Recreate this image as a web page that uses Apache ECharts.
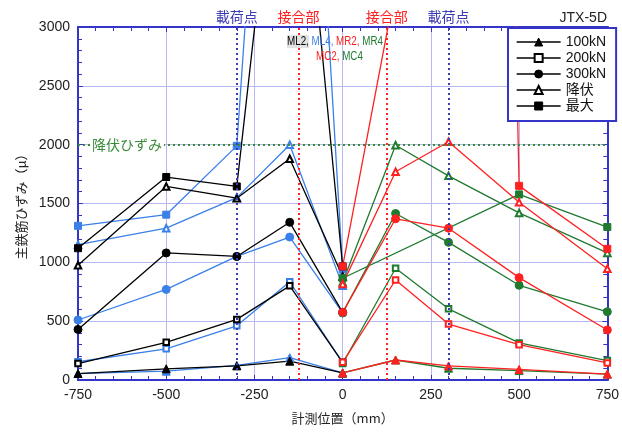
<!DOCTYPE html>
<html><head><meta charset="utf-8">
<script src="https://cdn.jsdelivr.net/npm/echarts@6/dist/echarts.min.js"></script>
<style>html,body{margin:0;padding:0;background:#fff}#c{width:622px;height:432px}</style>
</head><body><div id="c"></div>
<script>
// ---- positions (mm) ----
const xLeft = [-750, -500, -300, -150, 0];
const xRight = [0, 150, 300, 500, 750];
const loadLevels = ['100kN', '200kN', '300kN', '降伏', '最大'];

// ---- ML2 (black) ----
const ml2_100 = [55, 95, 120, 160, 60];
const ml2_200 = [140, 320, 515, 800, 150];
const ml2_300 = [430, 1080, 1050, 1340, 575];
const ml2_yield = [975, 1645, 1545, 1880, 880];
const ml2_max = [1120, 1725, 1645, 5660, 965];
// ---- ML4 (blue) ----
const ml4_100 = [55, 75, 125, 190, 60];
const ml4_200 = [155, 265, 460, 835, 145];
const ml4_300 = [510, 770, 1050, 1215, 570];
const ml4_yield = [1150, 1290, 1550, 2000, 800];
const ml4_max = [1310, 1405, 1990, 8500, 940];
// ---- MR2 (red) ----
const mr2_100 = [60, 170, 120, 90, 50];
const mr2_200 = [150, 850, 475, 300, 145];
const mr2_300 = [575, 1370, 1290, 870, 425];
const mr2_yield = [815, 1770, 2025, 1510, 945];
const mr2_max = [965, 3340, 30000, 1650, 1115];
// ---- MR4 (green) ----
const mr4_100 = [60, 170, 100, 80, 50];
const mr4_200 = [140, 950, 605, 315, 165];
const mr4_300 = [570, 1415, 1170, 805, 580];
const mr4_yield = [830, 1995, 1735, 1420, 1080];
const mr4_max = [865, null, null, 1577, 1300];

// reference lines
const loadPoints = [-300, 300];
const joints = [-125, 125];
const yieldStrain = 2000;

const BLACK = '#000000', BLUE = '#3a80e8', RED = '#ff2020', GREEN = '#1f7a2f';
const AXIS = '#3434c8', GRID = '#b8b8f0', NAVY = '#3a3ab4', YGREEN = '#3a8a3a';
const NUMFONT = 'Liberation Sans, Arial, sans-serif';
const JPFONT = 'Noto Sans CJK JP, sans-serif';

// condense the gauge-name note horizontally so its first line spans about 96 px
const NOTE_FONT = '12.5px Liberation Sans, Arial, sans-serif';
const noteScale = (function () {
  const ctx = document.createElement('canvas').getContext('2d');
  ctx.font = NOTE_FONT;
  const w = ctx.measureText('ML2, ML4, MR2, MR4').width;
  return Math.max(0.6, Math.min(1, 96 / w));
})();

const groups = [
  { x: xLeft, color: BLUE, vals: [ml4_100, ml4_200, ml4_300, ml4_yield, ml4_max] },
  { x: xLeft, color: BLACK, vals: [ml2_100, ml2_200, ml2_300, ml2_yield, ml2_max] },
  { x: xRight, color: GREEN, vals: [mr4_100, mr4_200, mr4_300, mr4_yield, mr4_max] },
  { x: xRight, color: RED, vals: [mr2_100, mr2_200, mr2_300, mr2_yield, mr2_max] }
];
const symbols = ['triangle', 'emptyRect', 'circle', 'emptyTriangle', 'rect'];
const symSizes = [8, 5.5, 8, 6.5, 7];

const series = [];
groups.forEach(g => {
  g.vals.forEach((arr, k) => {
    series.push({
      type: 'line', name: loadLevels[k],
      data: g.x.map((x, i) => [x, arr[i]]).filter(p => p[1] !== null),
      symbol: symbols[k], symbolSize: symSizes[k], showAllSymbol: true,
      lineStyle: { color: g.color, width: 1.3 },
      itemStyle: { color: g.color, borderColor: g.color, borderWidth: 1 },
      clip: true, silent: true
    });
  });
});

const vLine = (x, txt, col) => ({
  xAxis: x,
  lineStyle: { color: col, type: [2, 3], width: 2 },
  label: { show: true, position: 'end', formatter: txt, color: col, fontSize: 14, fontFamily: JPFONT, distance: 3 }
});
series.push({
  type: 'line', name: 'ref', data: [], silent: true,
  markLine: {
    symbol: ['none', 'none'], silent: true, animation: false,
    data: [
      vLine(loadPoints[0], '載荷点', NAVY), vLine(loadPoints[1], '載荷点', NAVY),
      vLine(joints[0], '接合部', RED), vLine(joints[1], '接合部', RED),
      { yAxis: yieldStrain, lineStyle: { color: YGREEN, type: [2, 3], width: 1.8 },
        label: { show: true, position: 'insideStart', formatter: '降伏ひずみ', color: YGREEN,
          fontSize: 14, fontFamily: JPFONT, backgroundColor: '#fff', padding: [0, 2], distance: [12, 0] } }
    ]
  }
});

const commonAxis = {
  axisLine: { show: true, onZero: false, lineStyle: { color: AXIS, width: 2 } },
  axisTick: { show: true, inside: true, length: 5, lineStyle: { color: AXIS } },
  minorTick: { show: true, splitNumber: 5, length: 4, lineStyle: { color: AXIS } }
};

const chart = echarts.init(document.getElementById('c'), null, { renderer: 'canvas' });
chart.setOption({
  animation: false,
  backgroundColor: '#fff',
  title: { text: 'JTX-5D', right: 10, top: 6, textStyle: { fontSize: 14, fontWeight: 'normal', color: '#222', fontFamily: NUMFONT } },
  grid: { left: 78, right: 10, top: 27, bottom: 52 },
  legend: {
    data: loadLevels.map(n => ({ name: n, itemStyle: { color: BLACK, borderColor: BLACK, borderWidth: 1 }, lineStyle: { color: BLACK, width: 1.3 } })),
    orient: 'vertical', left: 508, top: 28,
    backgroundColor: '#fff', borderColor: AXIS, borderWidth: 2,
    padding: [7, 10, 8, 8], itemGap: 2, itemWidth: 44, itemHeight: 10,
    textStyle: { fontSize: 14, color: '#111', fontFamily: NUMFONT + ', ' + JPFONT, lineHeight: 14 },
    selectedMode: false
  },
  xAxis: [
    Object.assign({}, commonAxis, {
      type: 'value', min: -750, max: 750, interval: 250,
      name: '計測位置（mm）', nameLocation: 'middle', nameGap: 32,
      nameTextStyle: { fontSize: 13, color: '#222', fontFamily: JPFONT },
      axisLabel: { fontSize: 14, color: '#222', fontFamily: NUMFONT, margin: 8, formatter: v => String(v) },
      splitLine: { show: true, lineStyle: { color: GRID, width: 1 } }
    }),
    Object.assign({}, commonAxis, {
      type: 'value', min: -750, max: 750, interval: 250, position: 'top',
      axisLabel: { show: false }, splitLine: { show: false }
    })
  ],
  yAxis: [
    Object.assign({}, commonAxis, {
      type: 'value', min: 0, max: 3000, interval: 500,
      name: '主鉄筋ひずみ（μ）', nameLocation: 'middle', nameGap: 50,
      nameTextStyle: { fontSize: 13, color: '#222', fontFamily: JPFONT },
      axisLabel: { fontSize: 14, color: '#222', fontFamily: NUMFONT, margin: 8, formatter: v => String(v) },
      splitLine: { show: true, lineStyle: { color: GRID, width: 1 } }
    }),
    Object.assign({}, commonAxis, {
      type: 'value', min: 0, max: 3000, interval: 500, position: 'right',
      axisLabel: { show: false }, splitLine: { show: false }
    })
  ],
  graphic: [
    { type: 'text', x: 287, y: 35, scaleX: noteScale, z: 10, silent: true,
      style: { text: '{k|ML2,} {b|ML4,} {r|MR2,} {g|MR4}', font: NOTE_FONT,
        rich: { k: { fill: BLACK, backgroundColor: '#e2e2e2' }, b: { fill: BLUE }, r: { fill: RED }, g: { fill: GREEN } } } },
    { type: 'text', x: 316, y: 50, scaleX: noteScale, z: 10, silent: true,
      style: { text: '{r|MC2,} {g|MC4}', font: NOTE_FONT,
        rich: { r: { fill: RED }, g: { fill: GREEN } } } }
  ],
  series: series
});
</script></body></html>
